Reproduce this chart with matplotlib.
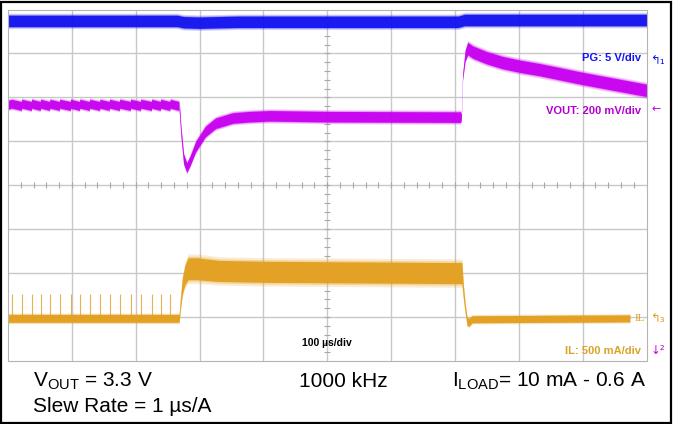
import numpy as np
import matplotlib
matplotlib.use("Agg")
from matplotlib import pyplot as plt
from matplotlib.patches import Rectangle

plt.rcParams['font.family'] = ['Liberation Sans', 'DejaVu Sans']
plt.rcParams['mathtext.default'] = 'regular'

# time in us (100 us/div, 10 div), levels in divisions (0..8 from bottom)
pg_t = [0, 265, 275, 300, 330, 360, 705, 715, 1000]
pg_y = [7.74, 7.74, 7.71, 7.70, 7.71, 7.72, 7.72, 7.76, 7.76]
pg_w = [0.13, 0.13, 0.13, 0.13, 0.13, 0.13, 0.13, 0.13, 0.13]

vout_t = [268, 271, 275, 280, 285, 294, 309, 325, 352, 378, 410, 500, 709,
          710, 712, 716, 720, 728, 750, 775, 801, 833, 900, 1000]
vout_y = [5.83, 5.2, 4.6, 4.40, 4.55, 4.88, 5.22, 5.41, 5.53, 5.56, 5.58, 5.56, 5.55,
          5.55, 6.47, 6.95, 7.11, 7.03, 6.90, 6.79, 6.71, 6.63, 6.43, 6.16]
vout_w = [0.11, 0.11, 0.11, 0.11, 0.11, 0.12, 0.12, 0.12, 0.12, 0.12, 0.12, 0.12, 0.12,
          0.05, 0.06, 0.12, 0.14, 0.14, 0.14, 0.14, 0.14, 0.14, 0.14, 0.14]

# light-load ripple / inductor current spikes before the step
spike_t = [5.8, 21.4, 37, 51, 65.6, 81, 98, 112.5, 128, 144, 159, 175, 192,
           208, 225, 239, 254]
vout_light = 5.83
vout_ripple = 0.025
il_spike_top = 1.53

il_t = [0, 268, 270, 273, 277, 282, 295, 330, 400, 710,
        711, 713, 716, 719, 722, 727, 974]
il_y = [0.97, 0.97, 1.3, 1.7, 1.95, 2.1, 2.1, 2.05, 2.03, 2.0,
        2.0, 1.6, 1.2, 0.9, 0.88, 0.95, 0.97]
il_w = [0.09, 0.09, 0.12, 0.18, 0.22, 0.25, 0.25, 0.24, 0.24, 0.24,
        0.24, 0.15, 0.1, 0.09, 0.09, 0.08, 0.08]

c_pg = '#1414f0'
c_vout = '#c800f0'
c_il = '#e3a020'


def band(ax, t, y, w, color):
    t = np.asarray(t, float)
    y = np.asarray(y, float)
    w = np.asarray(w, float)
    ax.fill_between(t, y - w * 1.35, y + w * 1.35, color=color, alpha=0.2, lw=0)
    ax.fill_between(t, y - w * 1.15, y + w * 1.15, color=color, alpha=0.3, lw=0)
    ax.fill_between(t, y - w, y + w, color=color, alpha=0.95, lw=0)


fig = plt.figure(figsize=(6.73, 4.24), dpi=100)
ax = fig.add_axes([8 / 673, 63 / 424, 638.5 / 673, 351.5 / 424])
ax.set_xlim(0, 1000)
ax.set_ylim(0, 8)

# graticule
for gx in range(100, 1000, 100):
    ax.axvline(gx, color='#c8c8c8', lw=1, zorder=0)
for gy in range(1, 8):
    ax.axhline(gy, color='#c8c8c8', lw=1, zorder=0)
ax.plot(np.arange(20, 1000, 20), np.full(49, 4.0), ls='none', marker='|',
        ms=4, mew=0.8, color='#a8a8a8', zorder=0)
ax.plot(np.full(39, 500.0), np.arange(0.2, 8, 0.2), ls='none', marker='_',
        ms=4, mew=0.8, color='#a8a8a8', zorder=0)
for s in ax.spines.values():
    s.set_color('#b4b4b4')
ax.set_xticks([])
ax.set_yticks([])

# traces
band(ax, pg_t, pg_y, pg_w, c_pg)

rt, ry = [], []
for i, ts in enumerate(spike_t):
    nxt = spike_t[i + 1] if i + 1 < len(spike_t) else 268
    rt += [ts, nxt - 0.5]
    ry += [vout_light + vout_ripple, vout_light - vout_ripple]
rt = [0] + rt
ry = [vout_light] + ry
band(ax, rt, ry, [0.1] * len(rt), c_vout)
band(ax, vout_t, vout_y, vout_w, c_vout)

band(ax, il_t, il_y, il_w, c_il)
ax.vlines(spike_t, 0.97, il_spike_top, color=c_il, lw=0.8, alpha=0.8)

# channel labels
ax.text(992, 6.9, 'PG: 5 V/div', color=c_pg, fontsize=8, fontweight='bold',
        ha='right', va='center')
ax.text(992, 5.7, 'VOUT: 200 mV/div', color='#b400d2', fontsize=8, fontweight='bold',
        ha='right', va='center')
ax.text(981, 0.97, 'IL', color=c_il, fontsize=8, family=['Liberation Serif'],
        ha='left', va='center')
ax.text(992, 0.22, 'IL: 500 mA/div', color='#d8a428', fontsize=8, fontweight='bold',
        ha='right', va='center')
ax.text(500, 0.4, '100 µs/div', color='black', fontsize=7.5, fontweight='bold',
        ha='center', va='center')

# channel markers on the right edge
fig.text(650 / 673, 1 - 60 / 424, '\u21b0\u2081', color=c_pg, fontsize=8.5,
         ha='left', va='center', family=['DejaVu Sans'])
fig.text(651 / 673, 1 - 109 / 424, '\u2190', color=c_vout, fontsize=8,
         ha='left', va='center', family=['DejaVu Sans'])
fig.text(650 / 673, 1 - 318 / 424, '\u21b0\u2083', color=c_il, fontsize=8.5,
         ha='left', va='center', family=['DejaVu Sans'])
fig.text(651 / 673, 1 - 350 / 424, '\u2193\u00b2', color=c_vout, fontsize=8.5,
         ha='left', va='center', family=['DejaVu Sans'])

# conditions below the plot
fig.text(33 / 673, 1 - 387 / 424, r'V$_{OUT}$ = 3.3 V', fontsize=15, va='baseline')
fig.text(343 / 673, 1 - 387 / 424, '1000 kHz', fontsize=15, ha='center', va='baseline')
fig.text(646 / 673, 1 - 387 / 424, r'I$_{LOAD}$= 10 mA - 0.6 A', fontsize=15,
         ha='right', va='baseline')
fig.text(33 / 673, 1 - 412 / 424, 'Slew Rate = 1 µs/A', fontsize=15, va='baseline')

fig.patches.append(Rectangle((1 / 673, 1 / 424), 670 / 673, 421 / 424,
                             transform=fig.transFigure, fill=False,
                             edgecolor='black', lw=1.6))

fig.savefig('out.png', dpi=100)
